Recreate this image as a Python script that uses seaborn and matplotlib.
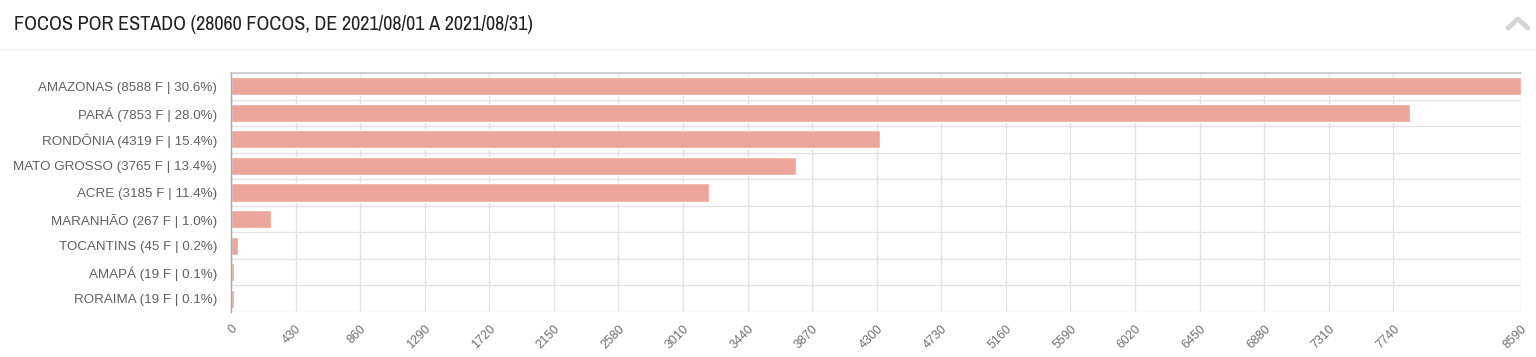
import matplotlib
matplotlib.use("Agg")
import matplotlib.pyplot as plt
from matplotlib import font_manager
import seaborn as sns
import pandas as pd
import numpy as np

states = ["AMAZONAS", "PARÁ", "RONDÔNIA", "MATO GROSSO", "ACRE", "MARANHÃO", "TOCANTINS", "AMAPÁ", "RORAIMA"]
counts = [8588, 7853, 4319, 3765, 3185, 267, 45, 19, 19]
pcts = ["30.6", "28.0", "15.4", "13.4", "11.4", "1.0", "0.2", "0.1", "0.1"]
xticks = [0, 430, 860, 1290, 1720, 2150, 2580, 3010, 3440, 3870, 4300, 4730, 5160,
          5590, 6020, 6450, 6880, 7310, 7740, 8590]
title = "FOCOS POR ESTADO (28060 FOCOS, DE 2021/08/01 A 2021/08/31)"

labels = [f"{s} ({c} F | {p}%)" for s, c, p in zip(states, counts, pcts)]
df = pd.DataFrame({"label": labels, "count": counts})

sns.set_theme(style="white")
plt.rcParams["font.family"] = ["Liberation Sans", "DejaVu Sans"]

# look for an installed condensed / narrow family for the header
narrow = None
for f in font_manager.fontManager.ttflist:
    n = f.name
    if ("Narrow" in n or "Condensed" in n) and "Mono" not in n and "Serif" not in n:
        narrow = n
        break
if narrow is None:
    for f in font_manager.fontManager.ttflist:
        if f.stretch in ("condensed", "semi-condensed", "extra-condensed") and "Mono" not in f.name:
            narrow = f.name
            break

fig = plt.figure(figsize=(15.36, 3.57), dpi=100)
ax = fig.add_axes([231/1536, 1-312/357, (1521-231)/1536, (312-73)/357])

sns.barplot(data=df, y="label", x="count", orient="h", color="#ECA59B",
            saturation=1, width=0.68, ax=ax, zorder=3)

ax.set_xlim(0, 8590)
ax.set_ylim(len(states)-0.5, -0.5)
ax.set_xticks(xticks)
ax.set_xticklabels([str(t) for t in xticks], rotation=45, ha="right",
                   rotation_mode="anchor", fontsize=9, color="#707070")
ax.set_yticks(np.arange(len(states)))
ax.set_yticklabels(labels, fontsize=9.6, color="#606060")
ax.set_yticks(np.arange(-0.5, len(states), 1), minor=True)
ax.tick_params(axis="y", which="major", length=0, pad=10)
ax.tick_params(axis="y", which="minor", length=10, color="#e3e3e3", width=1)
ax.tick_params(axis="x", which="major", length=5, color="#e3e3e3", pad=3)
ax.set_xlabel("")
ax.set_ylabel("")

ax.grid(axis="x", which="major", color="#e3e3e3", linewidth=1, zorder=0)
ax.grid(axis="y", which="minor", color="#e3e3e3", linewidth=1, zorder=0)
ax.set_axisbelow(True)

for side in ["right", "bottom"]:
    ax.spines[side].set_visible(False)
ax.spines["left"].set_color("#a8a8a8")
ax.spines["left"].set_linewidth(1)
ax.spines["left"].set_zorder(4)
ax.spines["top"].set_color("#c8c8c8")
ax.spines["top"].set_linewidth(1.2)

# header
if narrow is not None:
    fig.text(14/1536, 1-25/357, title, fontsize=14.5, color="#222222",
             family=[narrow, "DejaVu Sans"], va="center", ha="left")
else:
    fig.text(14/1536, 1-25/357, title, fontsize=12, color="#222222",
             family=["Liberation Sans", "DejaVu Sans"], va="center", ha="left")
fig.add_artist(plt.Line2D([0, 1], [1-49/357, 1-49/357], color="#ebebeb", linewidth=1,
                          transform=fig.transFigure))
# collapse chevron icon
fig.add_artist(plt.Line2D([1508/1536, 1518/1536, 1528/1536],
                          [1-28/357, 1-19/357, 1-28/357], color="#d4d4d4",
                          linewidth=3.5, solid_capstyle="round", solid_joinstyle="round",
                          transform=fig.transFigure))

fig.savefig("out.png", dpi=100, facecolor="white")
